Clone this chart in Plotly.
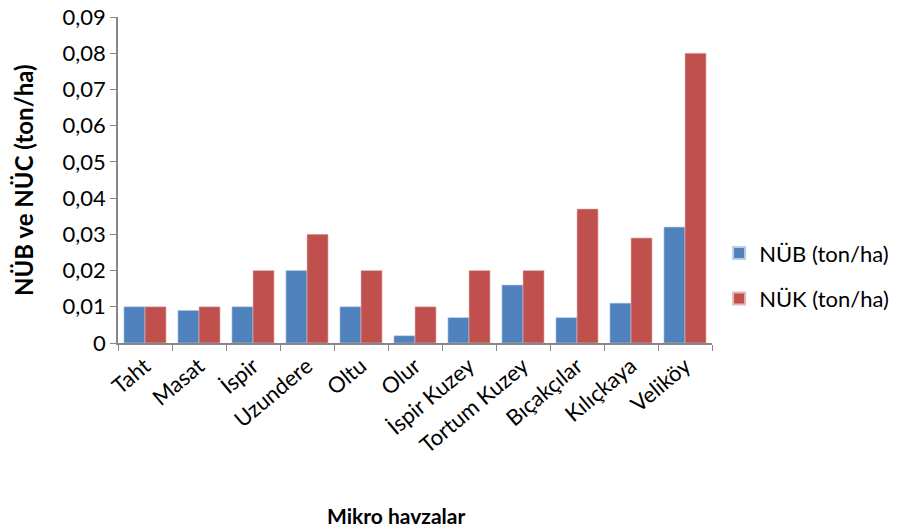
import plotly.graph_objects as go

# Micro-watershed names and the two series (ton/ha)
havzalar = ["Taht", "Masat", "İspir", "Uzundere", "Oltu", "Olur", "İspir Kuzey",
            "Tortum Kuzey", "Bıçakçılar", "Kılıçkaya", "Veliköy"]
nub = [0.010, 0.009, 0.010, 0.020, 0.010, 0.002, 0.007, 0.016, 0.007, 0.011, 0.032]
nuk = [0.010, 0.010, 0.020, 0.030, 0.020, 0.010, 0.020, 0.020, 0.037, 0.029, 0.080]

FONT = "Lato"

fig = go.Figure()
fig.add_trace(go.Bar(x=havzalar, y=nub, name="NÜB (ton/ha)", legendgroup="nub",
                     marker=dict(color="#4F81BD", line=dict(color="#B9CDE5", width=0.6))))
fig.add_trace(go.Bar(x=havzalar, y=nuk, name="NÜK (ton/ha)", legendgroup="nuk",
                     marker=dict(color="#C0504D", line=dict(color="#E6B9B8", width=0.6))))

fig.update_layout(
    width=908, height=529,
    margin=dict(l=118, r=196, t=17, b=186),
    paper_bgcolor="white", plot_bgcolor="white",
    separators=",.",
    barmode="group", bargap=0.22, bargroupgap=0,
    font=dict(family=FONT, color="black"),
    showlegend=True,
    legend=dict(x=1.012, y=0.205, xanchor="left", yanchor="middle",
                font=dict(size=22, family=FONT), traceorder="grouped",
                tracegroupgap=14, itemsizing="constant", itemwidth=30,
                borderwidth=0),
    annotations=[
        dict(text="<b>Mikro havzalar</b>", xref="paper", yref="paper",
             x=0.468, y=-0.528, xanchor="center", yanchor="middle",
             showarrow=False, font=dict(size=21, family=FONT)),
        dict(text="<b>NÜB ve NÜC (ton/ha)</b>", xref="paper", yref="paper",
             x=-0.16, y=0.5, xanchor="center", yanchor="middle", textangle=-90,
             showarrow=False, font=dict(size=24, family=FONT)),
    ],
)
fig.update_xaxes(
    showline=True, linecolor="#868686", linewidth=1.5,
    ticks="outside", tickson="boundaries", ticklen=6, tickcolor="#868686",
    tickangle=-40, tickfont=dict(size=22, family=FONT),
    automargin=False,
)
fig.update_yaxes(
    range=[0, 0.09], dtick=0.01, tick0=0,
    showline=True, linecolor="#868686", linewidth=1.5,
    ticks="outside", ticklen=6, tickcolor="#868686",
    showgrid=False, zeroline=False,
    tickfont=dict(size=22, family=FONT),
    automargin=False,
)

fig.write_html("out.html")
